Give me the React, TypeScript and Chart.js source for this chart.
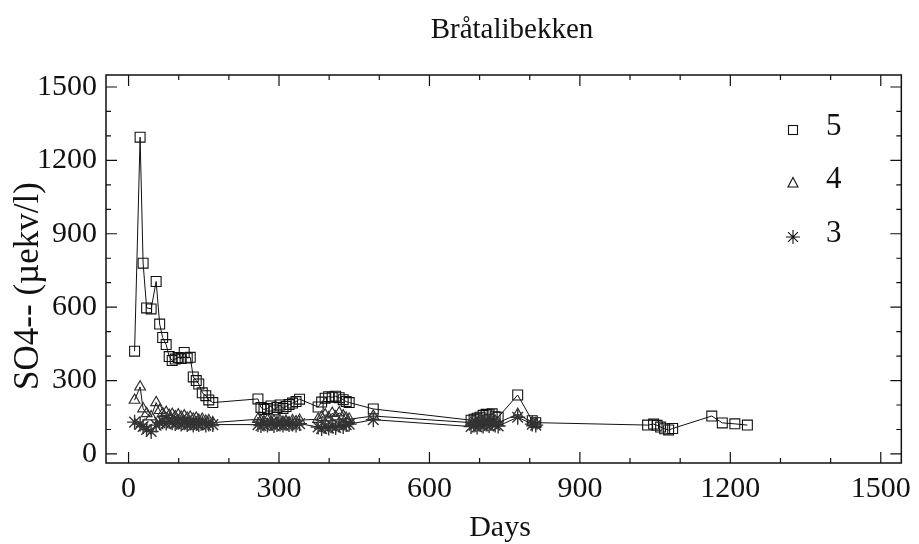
import React, { useEffect, useRef } from 'react';
import { Chart, registerables } from 'chart.js';

Chart.register(...registerables);

// ---- data ----
const chartTitle = 'Bråtalibekken';
const xTitle = 'Days';
const yTitle = 'SO4-- (µekv/l)';
const seriesLabels = ['5', '4', '3'];

const days = [
  12, 23, 29, 36, 45, 55, 62, 68, 75, 81, 87, 93, 99, 105, 111, 117, 123, 129, 135, 140, 147, 154, 160, 168,
  258, 264, 270, 277, 284, 290, 296, 302, 308, 314, 320, 327, 334, 341,
  378, 385, 392, 399, 406, 413, 420, 428, 434, 440,
  488,
  683, 689, 695, 701, 707, 713, 719, 725, 731, 737,
  776, 805, 812,
  1035, 1047, 1054, 1061, 1069, 1077, 1085, 1163, 1184, 1209, 1234,
];

const station5 = [
  420, 1295, 780, 597, 593, 705, 531, 476, 447, 398, 382, 388, 394, 390, 415, 392, 395, 315, 300, 286, 250, 238, 221, 210,
  225, 190, 182, 186, 196, 180, 190, 200, 186, 194, 202, 208, 214, 224,
  192, 212, 228, 234, 232, 236, 230, 222, 214, 210,
  184,
  138, 142, 146, 150, 158, 162, 160, 164, 152, 150,
  241, 136, 128,
  118, 122, 117, 110, 103, 98, 104, 155, 127, 123, 118,
];

const station4 = [
  220, 274, 185, 165, 152, 210, 178, 165, 170, 158, 162, 152, 160, 150, 156, 146, 150, 142, 146, 138, 142, 134, 136, 128,
  142, 136, 132, 138, 130, 134, 128, 136, 130, 134, 128, 136, 132, 138,
  142, 150, 160, 148, 166, 152, 168, 156, 146, 142,
  155,
  128, 134, 126, 136, 130, 138, 132, 140, 134, 128,
  162, 128, 124,
  null, null, null, null, null, null, null, null, null, null, null,
];

const station3 = [
  130, 122, 112, 100, 92, 118, 128, 132, 126, 134, 128, 124, 130, 122, 128, 120, 126, 118, 124, 120, 126, 118, 122, 120,
  120, 116, 122, 118, 124, 116, 120, 122, 118, 124, 120, 122, 118, 124,
  110, 104, 112, 106, 114, 108, 118, 112, 120, 122,
  140,
  112, 118, 110, 120, 114, 122, 116, 124, 118, 114,
  150, 122, 118,
  null, null, null, null, null, null, null, null, null, null, null,
];

const xMajorTicks = [0, 300, 600, 900, 1200, 1500];
const yMajorTicks = [0, 300, 600, 900, 1200, 1500];
const minorStep = 100;

// ---- helpers ----
const FONT = '"Liberation Serif", "Times New Roman", serif';
const INK = '#111111';

function toPoints(vals: (number | null)[]) {
  const out: { x: number; y: number }[] = [];
  vals.forEach((v, i) => {
    if (v !== null && v !== undefined) out.push({ x: days[i], y: v });
  });
  return out;
}

function buildTicks(major: number[]) {
  const out: { value: number }[] = [];
  for (let v = major[0]; v <= major[major.length - 1]; v += minorStep) out.push({ value: v });
  return out;
}

const framePlugin = {
  id: 'framePlugin',
  afterDraw(chart: any) {
    const { ctx, chartArea: a, scales } = chart;
    const xs = scales.x;
    const ys = scales.y;
    ctx.save();
    ctx.strokeStyle = INK;
    ctx.lineWidth = 1.5;
    ctx.strokeRect(a.left, a.top, a.right - a.left, a.bottom - a.top);

    ctx.lineWidth = 1.2;
    ctx.beginPath();
    for (const t of xs.ticks) {
      const px = xs.getPixelForValue(t.value);
      const len = xMajorTicks.includes(t.value) ? 11 : 5;
      ctx.moveTo(px, a.bottom);
      ctx.lineTo(px, a.bottom - len);
      ctx.moveTo(px, a.top);
      ctx.lineTo(px, a.top + len);
    }
    for (const t of ys.ticks) {
      const py = ys.getPixelForValue(t.value);
      const len = yMajorTicks.includes(t.value) ? 11 : 5;
      ctx.moveTo(a.left, py);
      ctx.lineTo(a.left + len, py);
      ctx.moveTo(a.right, py);
      ctx.lineTo(a.right - len, py);
    }
    ctx.stroke();

    // chart title and axis titles
    ctx.fillStyle = INK;
    ctx.textAlign = 'center';
    ctx.textBaseline = 'middle';
    ctx.font = `29px ${FONT}`;
    ctx.fillText(chartTitle, 512, 30);
    ctx.font = `30px ${FONT}`;
    ctx.fillText(xTitle, 500, 528);
    ctx.save();
    ctx.translate(29, 286);
    ctx.rotate(-Math.PI / 2);
    ctx.font = `35px ${FONT}`;
    ctx.fillText(yTitle, 0, 0);
    ctx.restore();

    // legend
    const lx = 793;
    const rows = [130, 183, 237];
    ctx.lineWidth = 1.1;
    ctx.strokeStyle = INK;
    ctx.strokeRect(lx - 4.5, rows[0] - 4.5, 9, 9);
    ctx.beginPath();
    ctx.moveTo(lx, rows[1] - 5.5);
    ctx.lineTo(lx + 5, rows[1] + 4);
    ctx.lineTo(lx - 5, rows[1] + 4);
    ctx.closePath();
    ctx.stroke();
    ctx.beginPath();
    for (let k = 0; k < 4; k++) {
      const ang = (k * Math.PI) / 4;
      const r = 7;
      ctx.moveTo(lx - r * Math.cos(ang), rows[2] - r * Math.sin(ang));
      ctx.lineTo(lx + r * Math.cos(ang), rows[2] + r * Math.sin(ang));
    }
    ctx.stroke();
    ctx.font = `31px ${FONT}`;
    ctx.textAlign = 'left';
    seriesLabels.forEach((s, i) => ctx.fillText(s, 826, rows[i] - 3));
    ctx.restore();
  },
};

export default function App() {
  const ref = useRef<HTMLCanvasElement | null>(null);

  useEffect(() => {
    if (!ref.current) return;
    const common = {
      borderColor: INK,
      borderWidth: 1,
      pointBorderColor: INK,
      pointBackgroundColor: 'rgba(0,0,0,0)',
      pointBorderWidth: 1,
      tension: 0,
      fill: false,
      spanGaps: true,
    };
    const chart = new Chart(ref.current, {
      type: 'line',
      data: {
        datasets: [
          { ...common, label: seriesLabels[2], data: toPoints(station3), pointStyle: 'star', pointRadius: 7.5, pointBorderWidth: 1.4, pointBorderColor: '#333' },
          { ...common, label: seriesLabels[1], data: toPoints(station4), pointStyle: 'triangle', pointRadius: 6.2, pointBorderWidth: 1.2, pointBorderColor: '#333' },
          { ...common, label: seriesLabels[0], data: toPoints(station5), pointStyle: 'rect', pointRadius: 7, pointBorderWidth: 1.1 },
        ] as any,
      },
      options: {
        animation: false,
        responsive: false,
        events: [],
        layout: { padding: { left: 0, right: 7, top: 75, bottom: 0 } },
        plugins: {
          legend: { display: false },
          tooltip: { enabled: false },
          title: { display: false },
        },
        scales: {
          x: {
            type: 'linear',
            min: -45,
            max: 1541,
            afterBuildTicks: (s: any) => { s.ticks = buildTicks(xMajorTicks); },
            afterFit: (s: any) => { s.height = 81; },
            grid: { display: false, drawTicks: false },
            border: { display: false },
            ticks: {
              autoSkip: false,
              maxRotation: 0,
              padding: 8,
              color: INK,
              font: { family: FONT, size: 30 },
              callback: (v: any) => (xMajorTicks.includes(Number(v)) ? String(v) : ''),
            },
          },
          y: {
            type: 'linear',
            min: -37,
            max: 1549,
            afterBuildTicks: (s: any) => { s.ticks = buildTicks(yMajorTicks); },
            afterFit: (s: any) => { s.width = 106; },
            grid: { display: false, drawTicks: false },
            border: { display: false },
            ticks: {
              autoSkip: false,
              padding: 9,
              color: INK,
              font: { family: FONT, size: 30 },
              callback: (v: any) => (yMajorTicks.includes(Number(v)) ? String(v) : ''),
            },
          },
        },
      } as any,
      plugins: [framePlugin],
    });
    return () => chart.destroy();
  }, []);

  return (
    <div style={{ position: 'fixed', left: 0, top: 0, width: 919, height: 544, background: '#fff' }}>
      <canvas ref={ref} width={919} height={544} style={{ width: 919, height: 544, display: 'block' }} />
    </div>
  );
}
